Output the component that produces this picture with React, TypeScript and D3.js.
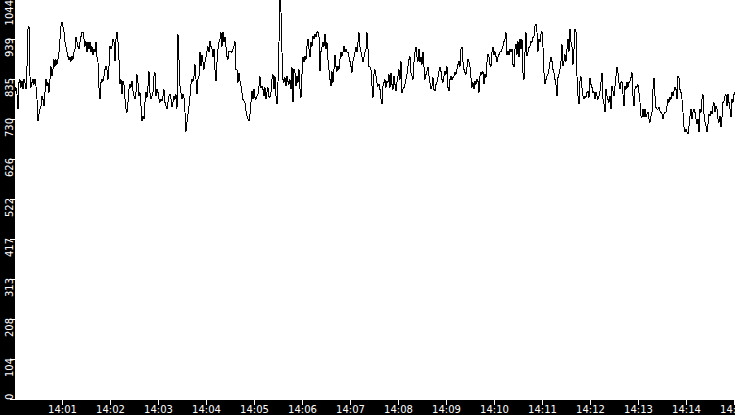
import React, { useEffect } from "react";
import * as d3 from "d3";

const WIDTH = 735;
const HEIGHT = 415;
const MARGIN = { top: 0, right: 0, bottom: 15, left: 15 };

// sampling: one reading every 1.25 s starting 14:00:01
const START = new Date(2024, 0, 1, 14, 0, 1);
const STEP_MS = 1250;
const Y_TICK_COUNT = 10;

// readings, roughly two minutes per block
const seg1 = [
  803, 813, 795, 756, 826, 834, 813, 829, 808, 834,
  826, 808, 868, 965, 973, 842, 813, 826, 834, 821,
  834, 816, 782, 725, 743, 756, 764, 790, 782, 764,
  800, 834, 816, 826, 800, 834, 868, 842, 860, 886,
  868, 886, 873, 886, 905, 939, 973, 983, 970, 957,
  931, 918, 905, 894, 886, 892, 881, 894, 886, 905,
  913, 944, 931, 920, 913, 931, 946, 957, 957, 939,
  920, 933, 905, 931, 913, 931, 905, 920, 899, 913,
  905, 931, 892, 879, 813, 782, 826, 834, 829, 842,
  860, 868, 860, 834, 868, 920, 913, 920, 939, 931,
  881, 939, 957,
];
const seg2 = [
  933, 886, 821, 834, 795, 829, 821, 782, 756, 748,
  774, 808, 821, 813, 829, 803, 790, 782, 800, 847,
  826, 790, 800, 764, 725, 738, 730, 774, 800, 787,
  816, 855, 800, 782, 790, 800, 842, 852, 790, 808,
  800, 782, 774, 782, 777, 790, 808, 774, 764, 756,
  774, 790, 795, 782, 761, 774, 790, 782, 795, 756,
  952, 886, 816, 800, 782, 795, 787, 748, 698, 722,
  743, 764, 790, 821, 834, 829, 842, 873, 834, 795,
  834, 842, 905, 868, 899, 879, 860, 879, 892, 907,
  920, 905, 933, 920, 913, 892, 913, 860, 829, 879,
  913, 931, 939,
];
const seg3 = [
  957, 920, 959, 931, 944, 918, 894, 886, 907, 905,
  907, 905, 913, 920, 933, 860, 860, 826, 852, 829,
  816, 800, 782, 777, 774, 751, 738, 730, 725, 743,
  774, 803, 782, 808, 787, 782, 790, 795, 816, 842,
  813, 816, 808, 790, 813, 782, 800, 813, 790, 787,
  800, 834, 847, 808, 842, 790, 769, 826, 931, 1044,
  1009, 905, 834, 826, 839, 816, 842, 829, 821, 834,
  808, 866, 774, 860, 852, 816, 842, 826, 860, 808,
  787, 847, 892, 879, 894, 886, 920, 939, 913, 892,
  931, 920, 946, 939, 952, 944, 957, 959, 946, 855,
  907, 918, 931,
];
const seg4 = [
  920, 952, 913, 931, 886, 860, 834, 816, 855, 826,
  860, 899, 868, 855, 868, 860, 886, 905, 894, 905,
  920, 907, 913, 905, 905, 892, 881, 868, 852, 881,
  892, 905, 918, 905, 931, 957, 918, 905, 892, 879,
  892, 905, 913, 957, 913, 868, 866, 860, 816, 787,
  847, 860, 842, 826, 816, 821, 808, 782, 769, 816,
  826, 834, 813, 829, 826, 847, 813, 852, 821, 808,
  842, 821, 803, 826, 842, 860, 834, 881, 800, 808,
  813, 821, 834, 847, 868, 886, 894, 852, 842, 834,
  879, 905, 918, 892, 881, 913, 879, 892, 873, 905,
  866, 834, 847,
];
const seg5 = [
  855, 866, 842, 826, 808, 816, 839, 808, 803, 821,
  826, 839, 855, 866, 855, 834, 826, 842, 855, 847,
  868, 813, 803, 834, 842, 834, 839, 842, 852, 847,
  860, 873, 881, 868, 913, 918, 879, 860, 852, 847,
  866, 886, 879, 866, 839, 813, 826, 808, 829, 821,
  834, 829, 800, 842, 852, 847, 855, 821, 847, 839,
  879, 899, 892, 873, 868, 905, 918, 899, 907, 894,
  879, 892, 899, 905, 907, 913, 920, 933, 939, 957,
  899, 907, 899, 913, 905, 913, 873, 866, 913, 926,
  899, 933, 892, 939, 913, 939, 852, 834, 905, 957,
  894, 905, 918,
];
const seg6 = [
  920, 933, 931, 944, 946, 973, 978, 957, 907, 939,
  931, 952, 959, 918, 852, 821, 834, 842, 847, 860,
  879, 892, 881, 860, 852, 834, 821, 790, 839, 847,
  860, 881, 926, 868, 881, 899, 881, 913, 939, 907,
  965, 931, 918, 873, 913, 965, 959, 842, 790, 769,
  829, 842, 813, 790, 782, 790, 787, 800, 803, 787,
  839, 821, 813, 800, 803, 782, 800, 790, 782, 790,
  803, 826, 852, 782, 769, 748, 808, 790, 782, 774,
  790, 756, 816, 803, 790, 816, 842, 866, 852, 826,
  808, 826, 829, 795, 764, 816, 808, 826, 813, 826,
  829, 839, 852,
];
const seg7 = [
  790, 764, 808, 816, 813, 821, 800, 774, 738, 735,
  756, 735, 756, 735, 743, 748, 730, 722, 738, 748,
  808, 839, 790, 761, 756, 756, 761, 751, 748, 743,
  730, 743, 748, 748, 764, 782, 774, 787, 782, 800,
  790, 803, 813, 808, 782, 842, 839, 808, 800, 782,
  748, 709, 698, 704, 696, 691, 712, 738, 756, 730,
  748, 756, 748, 730, 717, 730, 696, 756, 748, 782,
  795, 743, 722, 712, 696, 717, 743, 738, 751, 743,
  764, 774, 748, 764, 756, 730, 722, 738, 709, 735,
  774, 777, 790, 795, 764, 795, 774, 756, 735, 782,
  774, 795, 800,
];

type Point = { t: Date; v: number };

const App = () => {
  useEffect(() => {
    document.body.style.margin = "0";
  }, []);

  const values = [...seg1, ...seg2, ...seg3, ...seg4, ...seg5, ...seg6, ...seg7];
  const data: Point[] = values.map((v, i) => ({
    t: new Date(START.getTime() + i * STEP_MS),
    v,
  }));

  const maxV = d3.max(values) ?? 0;
  const xScale = d3
    .scaleTime()
    .domain([data[0].t, data[data.length - 1].t])
    .range([MARGIN.left, WIDTH - MARGIN.right]);
  const yScale = d3
    .scaleLinear()
    .domain([0, maxV])
    .range([HEIGHT - MARGIN.bottom - 1, MARGIN.top - 1]);

  const line = d3
    .line<Point>()
    .x((d) => xScale(d.t))
    .y((d) => yScale(d.v));

  const xTicks = xScale.ticks(d3.timeMinute.every(1)!).filter((t) => +t > +data[0].t);
  const yTicks = d3.range(0, Y_TICK_COUNT + 1).map((i) => (maxV * i) / Y_TICK_COUNT);
  const fmt = d3.timeFormat("%H:%M");
  const plotBottom = HEIGHT - MARGIN.bottom;

  return (
    <svg
      width={WIDTH}
      height={HEIGHT}
      style={{ position: "absolute", left: 0, top: 0, display: "block" }}
      fontFamily="DejaVu Sans"
      fontSize={10}
    >
      <rect width={WIDTH} height={HEIGHT} fill="#000" />
      <rect
        x={MARGIN.left}
        y={MARGIN.top}
        width={WIDTH - MARGIN.left - MARGIN.right}
        height={plotBottom - MARGIN.top}
        fill="#fff"
      />
      <path d={line(data) ?? ""} fill="none" stroke="#000" strokeWidth={1} shapeRendering="crispEdges" />

      {/* y axis */}
      {yTicks.map((v, i) => {
        const y = yScale(v);
        return (
          <g key={`y${i}`}>
            <line x1={10} x2={MARGIN.left} y1={Math.round(y) + 0.5} y2={Math.round(y) + 0.5} stroke="#fff" />
            <text
              fill="#fff"
              textAnchor={i === 0 ? "start" : "end"}
              transform={`translate(13,${i === 0 ? plotBottom : Math.max(0, y - 1)}) rotate(-90)`}
            >
              {Math.floor(v)}
            </text>
          </g>
        );
      })}

      {/* x axis */}
      {xTicks.map((t, i) => {
        const x = Math.round(xScale(t)) + 0.5;
        return (
          <g key={`x${i}`}>
            <line x1={x} x2={x} y1={plotBottom} y2={plotBottom + 5} stroke="#fff" />
            <text fill="#fff" x={x} y={413} textAnchor="middle">
              {fmt(t)}
            </text>
          </g>
        );
      })}
    </svg>
  );
};

export default App;
